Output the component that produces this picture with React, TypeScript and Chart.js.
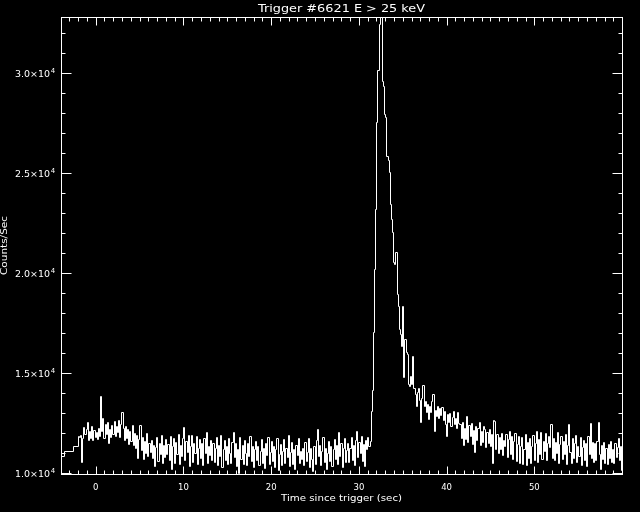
import { useEffect, useRef } from "react";
import { Chart, registerables } from "chart.js";

Chart.register(...registerables);

// ---- text ----
const titleText = "Trigger #6621 E > 25 keV";
const xAxisTitle = "Time since trigger (sec)";
const yAxisTitle = "Counts/Sec";

// ---- axes ----
const xMin = -3.956;
const xMax = 59.994;
const yMin = 9935;
const yMax = 32785;
const xMajorTicks = [0, 10, 20, 30, 40, 50];
const xTickLabels = ["0", "10", "20", "30", "40", "50"];
const xMinorStep = 1;
const yMajorTicks = [10000, 15000, 20000, 25000, 30000];
const yTickMantissas = ["1.0", "1.5", "2.0", "2.5", "3.0"];
const yTickExponent = "4";
const yMinorStep = 1000;

// ---- data: pre-trigger coarse bins ----
const coarseBinStarts = [-4.6, -3.61, -2.55];
const coarseBinCounts = [10800, 11050, 11330];

// ---- data: fine bins (start time, width) ----
const fineBinStart = -2.0;
const fineBinWidth = 0.128;

const countsPre = [
  11800, 11750, 11850, 10500, 11700, 12250, 11900, 12150, 12500, 11600,
  12050, 11700, 12300, 11600, 12100, 11750, 12000, 11650, 12200, 11800,
  13800, 12050, 12700, 11700, 12400, 11900, 12500, 11450, 12150, 11750,
  12350, 11900, 12550, 11800, 12300, 12000, 12600, 11750, 12400, 13000,
];
const countsEarly = [
  12200, 11600, 12300, 11700, 12150, 11400, 12050, 11550, 12350, 11350,
  11950, 11200, 11850, 10700, 11650, 12350, 11100, 11750, 10650, 11550,
  10950, 11950, 10800, 11450, 11000, 11600, 10700, 11350, 10300, 11250,
  11750, 10550, 11450, 10900, 11850, 10450, 11350, 10750, 11650, 10900,
];
const countsQuiet1 = [
  11400, 10600, 11800, 10150, 11300, 11700, 10450, 11500, 10900, 11900,
  10400, 11350, 10800, 11700, 12250, 10600, 11550, 11000, 11850, 10300,
  11300, 11850, 10500, 11450, 10950, 11800, 10400, 11200, 11650, 10700,
  11450, 10350, 11700, 10950, 12000, 10450, 11300, 10850, 11600, 10600,
];
const countsQuiet2 = [
  11450, 10500, 11200, 11750, 10350, 11350, 10800, 11850, 10250, 11150,
  11600, 10600, 11300, 10400, 11700, 10950, 10450, 11500, 12000, 10750,
  11450, 10300, 11150, 9950, 11750, 10650, 11350, 10400, 11600, 10950,
  10350, 11450, 10800, 11800, 10550, 11300, 10250, 11150, 11550, 10600,
];
const countsQuiet3 = [
  11300, 10350, 11050, 11650, 10450, 11200, 10200, 11450, 10850, 11750,
  10400, 11000, 11550, 10550, 11300, 10250, 11150, 11700, 10100, 10900,
  11400, 10350, 11050, 11650, 10450, 11200, 10750, 11850, 10300, 11000,
  11500, 10400, 11150, 10150, 11350, 10850, 11700, 10450, 11050, 10650,
];
const countsQuiet4 = [
  11200, 10350, 11500, 10550, 11000, 11700, 10250, 11200, 10650, 10050,
  11300, 10400, 11600, 12150, 10800, 11350, 10350, 11050, 11750, 10500,
  11200, 10150, 10950, 11550, 10550, 11300, 10300, 11150, 11650, 10650,
  11350, 10400, 12000, 10800, 11450, 10250, 11200, 11700, 10500, 11100,
];
const countsQuiet5 = [
  11450, 10500, 11200, 11750, 10600, 11350, 10350, 11600, 12050, 10750,
  11500, 10950, 11800, 10550, 11400, 10300, 11600, 11150, 11750, 11300,
];
const countsPeak = [
  11550, 13050, 14100, 17000, 20150, 23150, 27500, 30100, 32400, 33600,
  33100, 29550, 29300, 27900, 27750, 25800, 25600, 25000, 23400, 22650,
  22000, 20500, 20400, 21000, 18900, 18300, 17150, 16900, 16300, 18300,
  14750, 16650, 16000, 15900, 14400, 14300, 14800, 14400, 15800, 14200,
];
const countsDecay = [
  13900, 13300, 14000, 14200, 13600, 12500, 13700, 14350, 13300, 13550,
  13000, 13400, 12650, 13300, 13000, 13550, 13900, 12050, 13100, 12800,
  13300, 12700, 13200, 12850, 13250, 12600, 13050, 12400, 11800, 12900,
  12500, 12950, 12300, 12750, 13050, 12400, 12700, 12200, 13000, 12450,
];
const countsTail1 = [
  12400, 11700, 12500, 11350, 12200, 11650, 12800, 11500, 12350, 11800,
  12450, 11400, 12100, 11000, 12300, 11600, 12200, 12500, 11350, 12050,
  11500, 12300, 12150, 11250, 12000, 11450, 12150, 11300, 11900, 10450,
  12600, 12550, 11150, 11900, 10950, 11750, 11150, 11950, 10850, 11600,
];
const countsTail2 = [
  11300, 11900, 10750, 11650, 12050, 10900, 11800, 10650, 11550, 11950,
  10550, 11400, 11800, 10450, 11300, 11750, 10400, 11150, 11900, 10350,
  11500, 10700, 11700, 10450, 11300, 11850, 10600, 11450, 12050, 10500,
  11650, 10900, 12000, 10650, 11550, 11050, 11950, 10600, 11450, 11800,
];
const countsTail3 = [
  11250, 12400, 10700, 11700, 10600, 11500, 10950, 12000, 10450, 11400,
  11800, 10650, 11550, 10900, 11900, 10400, 11350, 12400, 11000, 10450,
  11700, 10700, 11450, 11850, 10500, 11300, 10800, 11750, 10350, 11250,
  11600, 10600, 11450, 10300, 11800, 10900, 12450, 10700, 11500, 10500,
];
const countsTail4 = [
  11450, 10600, 11550, 12500, 10900, 10150, 11350, 10650, 11500, 10450,
  11200, 10400, 11400, 10700, 11550, 10500, 11150, 10450, 11450, 10750,
  11250, 11700, 10600, 11300, 10100,
];

const fineCounts = [
  ...countsPre, ...countsEarly, ...countsQuiet1, ...countsQuiet2, ...countsQuiet3,
  ...countsQuiet4, ...countsQuiet5, ...countsPeak, ...countsDecay, ...countsTail1,
  ...countsTail2, ...countsTail3, ...countsTail4,
];

function buildPoints() {
  const pts: { x: number; y: number }[] = [];
  coarseBinStarts.forEach((t, i) => pts.push({ x: t, y: coarseBinCounts[i] }));
  fineCounts.forEach((v, i) => pts.push({ x: fineBinStart + i * fineBinWidth, y: v }));
  const last = fineCounts[fineCounts.length - 1];
  pts.push({ x: fineBinStart + fineCounts.length * fineBinWidth, y: last });
  return pts;
}

function fillStretched(
  ctx: CanvasRenderingContext2D,
  text: string,
  x: number,
  y: number,
  font: string,
  width: number,
  align: CanvasTextAlign
) {
  ctx.save();
  ctx.font = font;
  ctx.textAlign = align;
  ctx.textBaseline = "alphabetic";
  const w = ctx.measureText(text).width || 1;
  ctx.translate(x, y);
  ctx.scale(width / w, 1);
  ctx.fillText(text, 0, 0);
  ctx.restore();
}

const idlFrame = {
  id: "idlFrame",
  beforeDraw(chart: any) {
    const { ctx, width, height } = chart;
    ctx.save();
    ctx.fillStyle = "#000";
    ctx.fillRect(0, 0, width, height);
    ctx.restore();
  },
  beforeDatasetsDraw(chart: any) {
    // snap the library-computed point positions to the pixel grid for a crisp 1px line
    chart.getSortedVisibleDatasetMetas().forEach((meta: any) => {
      meta.data.forEach((el: any) => {
        el.x = Math.floor(el.x) + 0.5;
        el.y = Math.floor(el.y) + 0.5;
      });
      if (meta.dataset) meta.dataset._path = undefined;
    });
  },
  afterDraw(chart: any) {
    const { ctx, chartArea: a } = chart;
    const xs = chart.scales.x;
    const ys = chart.scales.y;
    ctx.save();
    ctx.strokeStyle = "#fff";
    ctx.fillStyle = "#fff";
    ctx.lineWidth = 1;
    const L = Math.round(a.left) + 0.5;
    const R = Math.round(a.right) + 0.5;
    const T = Math.round(a.top) + 0.5;
    const B = Math.round(a.bottom) + 0.5;
    ctx.strokeRect(L, T, R - L, B - T);

    ctx.beginPath();
    for (let v = Math.ceil(xMin); v <= xMax; v += xMinorStep) {
      const major = xMajorTicks.includes(v);
      const len = major ? 8 : 4;
      const px = Math.round(xs.getPixelForValue(v)) + 0.5;
      ctx.moveTo(px, B);
      ctx.lineTo(px, B - len);
      ctx.moveTo(px, T);
      ctx.lineTo(px, T + len);
    }
    for (let v = 10000; v <= yMax; v += yMinorStep) {
      const major = yMajorTicks.includes(v);
      const len = major ? 10 : 4;
      const py = Math.round(ys.getPixelForValue(v)) + 0.5;
      ctx.moveTo(L, py);
      ctx.lineTo(L + len, py);
      ctx.moveTo(R, py);
      ctx.lineTo(R - len, py);
    }
    ctx.stroke();

    ctx.font = "8.5px 'DejaVu Sans'";
    ctx.textAlign = "center";
    ctx.textBaseline = "alphabetic";
    xMajorTicks.forEach((v, i) => {
      const px = xs.getPixelForValue(v);
      ctx.fillText(xTickLabels[i], px, 489.5);
    });

    yMajorTicks.forEach((v, i) => {
      const py = ys.getPixelForValue(v);
      fillStretched(ctx, yTickMantissas[i] + "\u00d710", 50, py + 4, "8.5px 'DejaVu Sans'", 35, "right");
      ctx.font = "7px 'DejaVu Sans'";
      ctx.textAlign = "left";
      ctx.fillText(yTickExponent, 50.8, py);
    });

    const cx = (a.left + a.right) / 2;
    fillStretched(ctx, titleText, cx, 12, "10px 'DejaVu Sans'", 167, "center");
    fillStretched(ctx, xAxisTitle, cx, 501, "8.5px 'DejaVu Sans'", 121, "center");
    ctx.save();
    ctx.translate(7, (a.top + a.bottom) / 2);
    ctx.rotate(-Math.PI / 2);
    fillStretched(ctx, yAxisTitle, 0, 0, "8.5px 'DejaVu Sans'", 59, "center");
    ctx.restore();

    ctx.restore();
  },
};

export default function App() {
  const ref = useRef<HTMLCanvasElement>(null);
  useEffect(() => {
    document.body.style.margin = "0";
    document.body.style.background = "#000";
    const chart = new Chart(ref.current as HTMLCanvasElement, {
      type: "line",
      data: {
        datasets: [
          {
            data: buildPoints(),
            borderColor: "#ffffff",
            borderWidth: 1,
            pointRadius: 0,
            stepped: true,
            fill: false,
            tension: 0,
          },
        ],
      },
      options: {
        animation: false,
        responsive: false,
        devicePixelRatio: 1,
        events: [],
        layout: { padding: { left: 61, right: 18, top: 17, bottom: 38 } },
        plugins: {
          legend: { display: false },
          title: { display: false },
          tooltip: { enabled: false },
        },
        scales: {
          x: { type: "linear", min: xMin, max: xMax, display: false },
          y: { type: "linear", min: yMin, max: yMax, display: false },
        },
      },
      plugins: [idlFrame],
    } as any);
    return () => chart.destroy();
  }, []);
  return (
    <canvas
      ref={ref}
      width={640}
      height={512}
      style={{ display: "block", width: 640, height: 512, background: "#000" }}
    />
  );
}
